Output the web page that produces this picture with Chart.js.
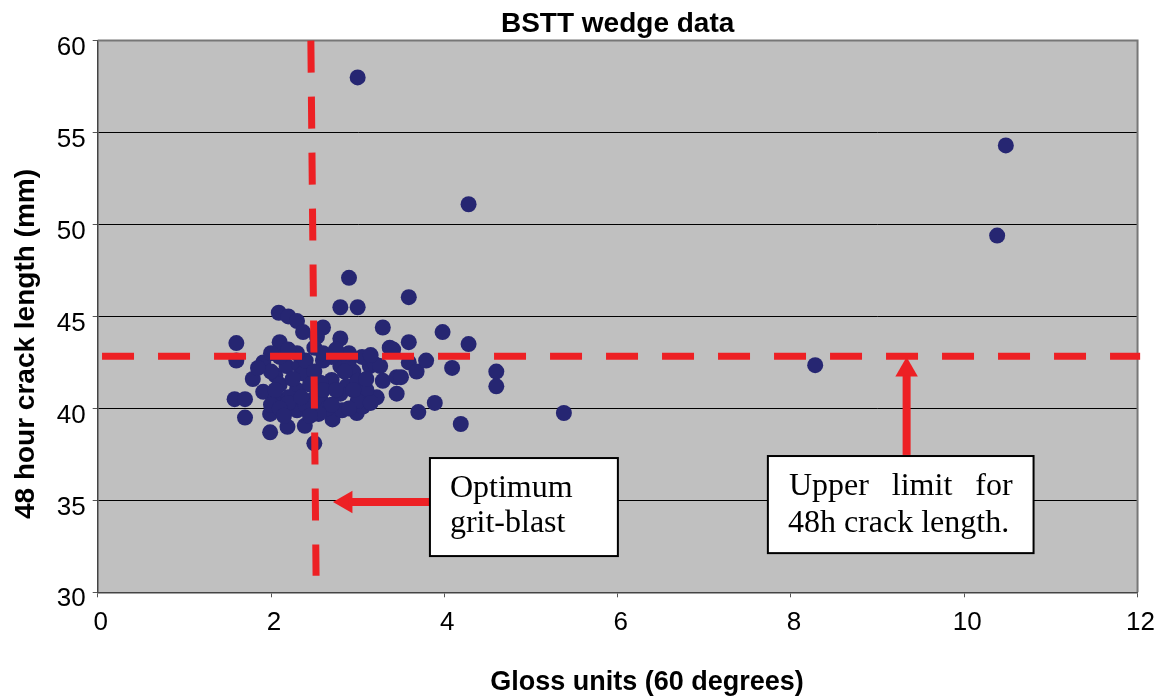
<!DOCTYPE html>
<html>
<head>
<meta charset="utf-8">
<script src="https://cdn.jsdelivr.net/npm/chart.js@4.4.1/dist/chart.umd.min.js"></script>
<style>
  html, body { margin: 0; padding: 0; background: #fff; }
</style>
</head>
<body>
<canvas id="wedgeChart" width="1162" height="696"></canvas>
<script>
// --- data ---
const glossUnits = [
  3.0, 10.48, 10.38, 4.28, 8.28, 5.38, 2.9, 2.8, 3.0, 3.59,
  2.09, 2.2, 2.3, 2.37, 2.6, 3.29, 3.98, 4.28, 3.59, 2.8, 2.1, 2.53,
  1.6, 1.6, 1.58, 1.7, 1.7, 1.79, 1.91, 1.91, 2.05, 2.05, 1.99, 1.99, 2.19, 2.3,
  2.39, 2.5, 2.71, 2.82, 2.99, 3.06, 3.22, 3.08, 2.87, 2.7, 2.95, 3.14, 3.2, 3.29,
  3.45, 3.45, 3.37, 3.41, 3.26, 3.59, 3.68, 3.79, 4.09, 4.6, 4.6, 3.5, 3.89, 3.7,
  4.19, 2.3, 2.18, 2.33, 2.49, 2.57, 2.57, 2.37, 2.8,
  2.0, 2.1, 2.2, 2.4, 2.5, 2.6, 2.7, 2.9, 3.0, 2.8, 2.4, 2.65, 2.2, 2.0, 2.1,
  2.3, 2.5, 2.9, 3.1, 3.0, 2.6, 2.2, 2.0, 1.85, 2.1, 2.7, 2.9,
  2.25, 2.45, 2.75, 2.85, 3.05, 2.35, 2.55, 2.15, 3.15, 2.05, 2.6, 2.95, 3.1, 2.45, 2.75, 3.15
];
const crackLength = [
  58.0, 54.3, 49.4, 51.1, 42.35, 39.75, 47.1, 45.5, 45.5, 46.05,
  45.2, 45.0, 44.75, 44.15, 44.4, 44.4, 44.15, 43.5, 43.6, 43.8, 43.6, 43.9,
  43.55, 42.6, 40.5, 40.5, 39.5, 41.6, 42.5, 40.9, 41.8, 40.5, 39.7, 38.7, 39.0, 39.9,
  39.05, 38.1, 39.4, 39.9, 39.75, 40.1, 40.6, 40.8, 41.2, 41.55, 42.0, 42.3, 42.4, 41.5,
  41.7, 40.8, 43.3, 43.2, 42.3, 42.5, 42.0, 42.6, 42.2, 42.0, 41.2, 41.7, 40.3, 39.8,
  39.15, 41.0, 42.3, 42.3, 40.5, 41.4, 40.5, 41.9, 42.3,
  42.0, 41.3, 40.6, 42.6, 42.0, 41.0, 42.8, 42.6, 41.5, 40.8, 40.2, 40.0, 40.3, 40.2, 42.8,
  43.0, 43.3, 43.0, 41.0, 40.4, 42.6, 43.2, 43.0, 42.2, 40.0, 40.2, 40.0,
  41.6, 41.3, 41.0, 42.0, 42.8, 40.6, 39.7, 39.6, 40.3, 41.0, 43.0, 41.0, 41.6, 39.6, 43.2, 42.9
];

const xMin = 0, xMax = 12, xStep = 2;
const yMin = 30, yMax = 60, yStep = 5;

const chartTitle = 'BSTT wedge data';
const xTitle = 'Gloss units (60 degrees)';
const yTitle = '48 hour crack length (mm)';

// reference lines (data units)
const upperLimit = 42.84;
const limitLineX = [0.05, 12.03];
const optimumGlossX = [2.46, 2.52];
const optimumGlossY = [60, 30.9];

// arrows: shaft start, shaft end, tip-triangle centre
const upArrowX = 9.335;
const upArrowY = [37.47, 41.8, 42.09];
const leftArrowY = 34.91;
const leftArrowX = [3.83, 2.9, 2.865];

// callout boxes: [x0, x1, yTop, yBottom]
const optimumBox = [3.834, 6.003, 37.30, 31.97];
const optimumText = ['Optimum', 'grit-blast'];
const limitBox = [7.734, 10.80, 37.41, 32.13];
const limitText = [['Upper', 'limit', 'for'], ['48h crack length.']];

const red = '#ed2024';
const navy = '#262672';

const scatterPoints = glossUnits.map((g, i) => ({ x: g, y: crackLength[i] }));

const plotBackground = {
  id: 'plotBackground',
  beforeDraw(chart) {
    const { ctx, chartArea: a } = chart;
    ctx.save();
    ctx.fillStyle = '#c0c0c0';
    ctx.fillRect(a.left, a.top, a.right - a.left, a.bottom - a.top);
    ctx.restore();
  },
  beforeDatasetsDraw(chart) {
    const { ctx, chartArea: a } = chart;
    ctx.save();
    ctx.strokeStyle = '#777';
    ctx.lineWidth = 2;
    ctx.beginPath();
    ctx.moveTo(a.left, a.top);
    ctx.lineTo(a.right, a.top);
    ctx.lineTo(a.right, a.bottom);
    ctx.stroke();
    ctx.restore();
  }
};

function drawJustified(ctx, words, x0, x1, y) {
  if (words.length === 1) { ctx.fillText(words[0], x0, y); return; }
  const widths = words.map(w => ctx.measureText(w).width);
  const total = widths.reduce((s, w) => s + w, 0);
  const gap = (x1 - x0 - total) / (words.length - 1);
  let x = x0;
  words.forEach((w, i) => { ctx.fillText(w, x, y); x += widths[i] + gap; });
}

const callouts = {
  id: 'callouts',
  afterDatasetsDraw(chart) {
    const { ctx, scales: { x, y } } = chart;
    const drawBox = (b) => {
      const l = x.getPixelForValue(b[0]), r = x.getPixelForValue(b[1]);
      const t = y.getPixelForValue(b[2]), btm = y.getPixelForValue(b[3]);
      ctx.fillStyle = '#fff';
      ctx.fillRect(l, t, r - l, btm - t);
      ctx.strokeStyle = '#000';
      ctx.lineWidth = 2;
      ctx.strokeRect(l, t, r - l, btm - t);
      return { l, r, t, btm };
    };
    ctx.save();
    ctx.font = '32px "Liberation Serif", "Times New Roman", serif';
    ctx.textBaseline = 'alphabetic';
    ctx.textAlign = 'left';

    const ob = drawBox(optimumBox);
    ctx.fillStyle = '#000';
    ctx.fillText(optimumText[0], ob.l + 20, ob.t + 39);
    ctx.fillText(optimumText[1], ob.l + 20, ob.t + 74);

    const lb = drawBox(limitBox);
    ctx.fillStyle = '#000';
    drawJustified(ctx, limitText[0], lb.l + 21, lb.r - 21, lb.t + 39);
    drawJustified(ctx, limitText[1], lb.l + 20, lb.r - 20, lb.t + 76);
    ctx.restore();
  },
  afterDraw(chart) {
    const { ctx } = chart;
    ctx.save();
    ctx.fillStyle = '#000';
    ctx.font = 'bold 27px "Liberation Sans", Arial, sans-serif';
    ctx.textAlign = 'center';
    ctx.textBaseline = 'middle';
    ctx.fillText(xTitle, 647, 683);
    ctx.font = 'bold 28px "Liberation Sans", Arial, sans-serif';
    ctx.translate(26, 344);
    ctx.rotate(-Math.PI / 2);
    ctx.fillText(yTitle, 0, 0);
    ctx.restore();
  }
};

const lineDefaults = {
  showLine: true,
  borderColor: red,
  backgroundColor: red,
  pointRadius: 0,
  borderWidth: 7,
  clip: false,
  order: 1
};

new Chart(document.getElementById('wedgeChart'), {
  type: 'scatter',
  data: {
    datasets: [
      {
        label: 'BSTT wedge',
        data: scatterPoints,
        backgroundColor: navy,
        borderWidth: 0,
        pointRadius: 8,
        order: 2
      },
      {
        ...lineDefaults,
        label: 'upper limit',
        data: limitLineX.map(v => ({ x: v, y: upperLimit })),
        borderDash: [32, 24]
      },
      {
        ...lineDefaults,
        label: 'optimum',
        data: optimumGlossX.map((v, i) => ({ x: v, y: optimumGlossY[i] })),
        borderDash: [32, 24]
      },
      {
        ...lineDefaults,
        label: 'up arrow',
        borderWidth: 8,
        data: [{ x: upArrowX, y: upArrowY[0] }, { x: upArrowX, y: upArrowY[1] }]
      },
      {
        ...lineDefaults,
        label: 'up arrow head',
        showLine: false,
        data: [{ x: upArrowX, y: upArrowY[2] }],
        pointStyle: 'triangle',
        pointRadius: 13,
        borderWidth: 0,
        rotation: 0
      },
      {
        ...lineDefaults,
        label: 'left arrow',
        borderWidth: 8,
        data: [{ x: leftArrowX[0], y: leftArrowY }, { x: leftArrowX[1], y: leftArrowY }]
      },
      {
        ...lineDefaults,
        label: 'left arrow head',
        showLine: false,
        data: [{ x: leftArrowX[2], y: leftArrowY }],
        pointStyle: 'triangle',
        pointRadius: 13,
        borderWidth: 0,
        rotation: 270
      }
    ]
  },
  options: {
    responsive: false,
    animation: false,
    layout: { padding: { right: 24, left: 0, top: 0, bottom: 0 } },
    scales: {
      x: {
        type: 'linear',
        min: xMin,
        max: xMax,
        afterFit: s => { s.height = 103.7; },
        ticks: {
          stepSize: xStep,
          color: '#000',
          font: { family: '"Liberation Sans", Arial, sans-serif', size: 26 },
          padding: 10,
          labelOffset: 3,
          maxRotation: 0
        },
        grid: { drawOnChartArea: false, tickLength: 5, tickColor: '#555' },
        border: { color: '#444', width: 1.5 }
      },
      y: {
        type: 'linear',
        min: yMin,
        max: yMax,
        afterFit: s => { s.width = 97.7; },
        ticks: {
          stepSize: yStep,
          color: '#000',
          font: { family: '"Liberation Sans", Arial, sans-serif', size: 26 },
          padding: 7,
          labelOffset: 7
        },
        grid: {
          color: c => (c.tick && (c.tick.value === yMin || c.tick.value === yMax)) ? 'rgba(0,0,0,0)' : '#000',
          lineWidth: 1,
          tickLength: 5,
          tickColor: '#555'
        },
        border: { color: '#444', width: 1.5 }
      }
    },
    plugins: {
      legend: { display: false },
      tooltip: { enabled: false },
      title: {
        display: true,
        text: chartTitle,
        fullSize: false,
        color: '#000',
        font: { family: '"Liberation Sans", Arial, sans-serif', size: 28, weight: 'bold' },
        padding: { top: 7, bottom: 0 }
      }
    }
  },
  plugins: [plotBackground, callouts]
});
</script>
</body>
</html>
